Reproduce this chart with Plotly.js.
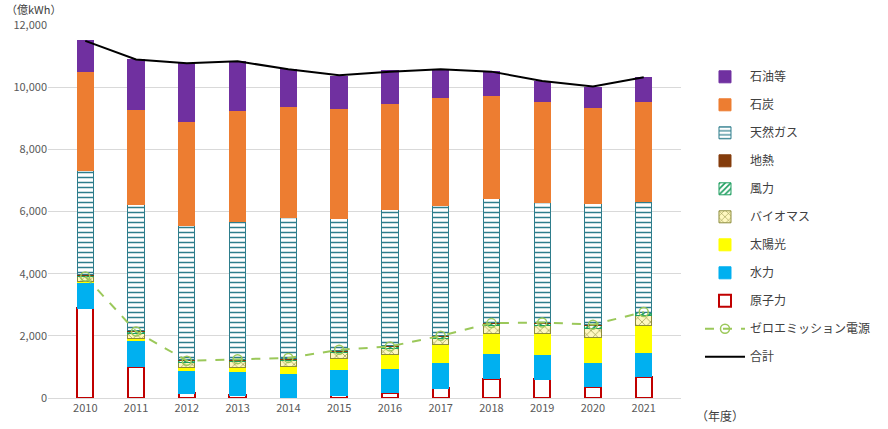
<!DOCTYPE html>
<html>
<head>
<meta charset="utf-8">
<script src="https://cdn.plot.ly/plotly-3.0.1.min.js"></script>
<style>body{margin:0;background:#fff}#chart{width:888px;height:429px}</style>
</head>
<body>
<div id="chart"></div>
<script>
// 年度
const years = ['2010','2011','2012','2013','2014','2015','2016','2017','2018','2019','2020','2021'];
// 電源別発電量（億kWh）
const nuclear = [2880,1010,160,90,0,90,170,320,620,610,370,680];
const hydro   = [840,850,740,770,780,820,770,830,810,790,780,800];
const solar   = [40,50,70,130,240,360,470,560,630,690,790,840];
const biomass = [150,170,180,180,180,180,190,220,260,230,300,330];
const wind    = [40,50,50,50,50,55,60,60,70,75,90,90];
const geo     = [26,26,26,26,26,26,26,26,26,26,26,26];
const gas     = [3330,4060,4320,4430,4530,4240,4370,4170,4010,3870,3890,3560];
const coal    = [3200,3060,3340,3560,3570,3550,3430,3490,3290,3240,3090,3220];
const oil     = [1000,1610,1890,1580,1200,1020,1040,900,780,660,660,760];
const zeroEm  = [3910,2140,1200,1250,1290,1550,1660,2000,2410,2430,2360,2765];
const total   = [11490,10890,10770,10830,10580,10380,10500,10580,10500,10200,10020,10320];

function bar(name, y, fill, line, rank, pattern, lw){
  let t = {type:'bar', name:name, x:years, y:y, legendrank:rank, legendgroup:name,
    marker:{color:fill, line:{color:line, width:lw || 1}}};
  if (pattern) t.marker.pattern = pattern;
  return t;
}

const data = [
  bar('原子力', nuclear, '#ffffff', '#c00000', 9, null, 2),
  bar('水力', hydro, '#00b0f0', '#00b0f0', 8),
  bar('太陽光', solar, '#ffff00', '#ffff00', 7),
  bar('バイオマス', biomass, '#ffffff', '#8c8c3c', 6, {shape:'x', fgcolor:'#8c8c3c', bgcolor:'#fff8c0', size:6, solidity:0.2}),
  bar('風力', wind, '#ffffff', '#1e9e60', 5, {shape:'/', fgcolor:'#1e9e60', bgcolor:'#ffffff', size:5, solidity:0.4}),
  bar('地熱', geo, '#843c0c', '#843c0c', 4),
  bar('天然ガス', gas, '#ffffff', '#2e7d8c', 3, {shape:'-', fgcolor:'#2e7d8c', bgcolor:'#ffffff', size:5, solidity:0.3}),
  bar('石炭', coal, '#ed7d31', '#ed7d31', 2),
  bar('石油等', oil, '#7030a0', '#7030a0', 1),
  {type:'scatter', mode:'lines+markers', name:'ゼロエミッション電源', x:years, y:zeroEm, legendrank:10, legendgroup:'ze',
    line:{color:'#9bc85a', width:2, dash:'dash'}, marker:{symbol:'circle-open', size:9, color:'#9bc85a', line:{width:1.5}}},
  {type:'scatter', mode:'lines', name:'合計', x:years, y:total, legendrank:11, legendgroup:'tot',
    line:{color:'#000000', width:2}}
];

const layout = {
  width:888, height:429,
  margin:{l:48, r:191, t:25, b:31},
  barmode:'stack', bargap:0.68,
  paper_bgcolor:'#fff', plot_bgcolor:'#fff',
  font:{family:'"Noto Sans CJK JP", "Noto Sans", sans-serif', size:11, color:'#595959'},
  xaxis:{type:'category', showgrid:false, showline:true, linecolor:'#d9d9d9', ticks:'', tickfont:{size:11}},
  yaxis:{range:[0,12000], dtick:2000, tickformat:',d', gridcolor:'#d9d9d9', zeroline:false, ticks:'', tickfont:{size:11}},
  legend:{x:1.03, y:0.9, xanchor:'left', yanchor:'top', tracegroupgap:9, font:{size:12, color:'#404040'}, itemwidth:40},
  showlegend:true,
  annotations:[
    {text:'（億kWh）', xref:'paper', yref:'paper', x:-0.07, y:1.07, xanchor:'left', yanchor:'top', showarrow:false, font:{size:11, color:'#404040'}},
    {text:'（年度）', xref:'paper', yref:'paper', x:1.02, y:-0.02, xanchor:'left', yanchor:'top', showarrow:false, font:{size:12, color:'#404040'}}
  ]
};

Plotly.newPlot('chart', data, layout, {displayModeBar:false, staticPlot:true});
</script>
</body>
</html>
